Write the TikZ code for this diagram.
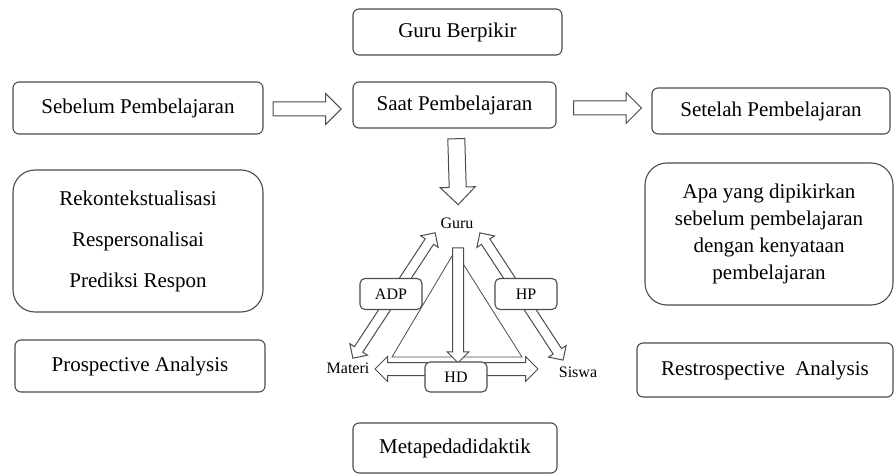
\documentclass[tikz,border=0pt]{standalone}
\usepackage{fontspec}
\setmainfont{Liberation Serif}
\usetikzlibrary{shapes.arrows}

\begin{document}
\begin{tikzpicture}[
  x=1pt, y=-1pt,
  box/.style={rectangle, rounded corners=6pt, draw=black!70, line width=1.1pt, fill=white,
              align=center, inner sep=0pt, font=\fontsize{21}{26}\selectfont},
  bigbox/.style={box, rounded corners=22pt},
  tag/.style={box, rounded corners=5pt, minimum width=62pt, minimum height=31pt,
              font=\fontsize{16}{19}\selectfont},
  word/.style={inner sep=0pt, font=\fontsize{16}{19}\selectfont},
  blockarrow/.style={single arrow, draw=black!70, line width=1pt, fill=white,
                     inner sep=0pt, sloped, allow upside down},
  twoway/.style={double arrow, draw=black!70, line width=1pt, fill=white,
                 inner sep=0pt, sloped, allow upside down}
]
\useasboundingbox (0,0) rectangle (895,476);

% top row
\node[box, minimum width=209pt, minimum height=46pt] (berpikir) at (457.5,32) {Guru Berpikir};
\node[box, minimum width=250pt, minimum height=52pt] (sebelum) at (138,108) {Sebelum Pembelajaran};
\node[box, minimum width=203pt, minimum height=46pt] (saat) at (454.5,105) {Saat Pembelajaran};
\node[box, minimum width=238pt, minimum height=46pt] (setelah) at (771,111) {Setelah Pembelajaran};

% side columns
\node[bigbox, minimum width=250pt, minimum height=142pt] (rekon) at (138,241)
  {Rekontekstualisasi\\[15pt]Respersonalisai\\[15pt]Prediksi Respon};
\node[box, minimum width=250pt, minimum height=52pt] (prosp) at (140,366) {Prospective Analysis};
\node[bigbox, minimum width=248pt, minimum height=142pt, font=\fontsize{21}{27}\selectfont] (apa) at (769,234)
  {Apa yang dipikirkan\\sebelum pembelajaran\\dengan kenyataan\\pembelajaran};
\node[box, minimum width=256pt, minimum height=54pt] (restro) at (765,370) {Restrospective\ \ Analysis};
\node[box, minimum width=204pt, minimum height=50pt] (meta) at (455,448) {Metapedadidaktik};

% corners of the triangle
\node[word] (guru) at (457,223) {Guru};
\node[word] (materi) at (348,368) {Materi};
\node[word] (siswa) at (578,372) {Siswa};

\path ([yshift=-1pt]sebelum.east) -- node[blockarrow, pos=0.45, minimum height=68pt, inner ysep=6.5pt,
  single arrow head extend=8.5pt] {} ([yshift=-1pt]sebelum.east -| saat.west);
\path ([yshift=-3pt]saat.east) -- node[blockarrow, minimum height=68pt, inner ysep=6.5pt,
  single arrow head extend=8.5pt] {} ([yshift=-3pt]saat.east -| setelah.west);
\path ([xshift=1.5pt]saat.south) -- node[blockarrow, pos=0.45, minimum height=66pt, inner ysep=8pt,
  single arrow head extend=9pt] {} ([xshift=1.5pt]guru.north |- 0,215);

\coordinate (apex) at (455,251);
\coordinate (baseL) at (392,357);
\coordinate (baseR) at (522,357);
\draw[draw=black!70, line width=0.8pt] (apex) -- (baseL) -- (baseR) -- cycle;

\coordinate (gtop) at (458,245);
\coordinate (gbot) at (458,360);
\path (gtop) -- node[blockarrow, minimum height=115pt, inner ysep=5pt,
  single arrow head extend=5.5pt] {} (gbot);

\coordinate (madp) at (353,358);
\coordinate (gadp) at (435,233);
\coordinate (ghp) at (480,233);
\coordinate (shp) at (563,360);
\coordinate (mhd) at (375,369);
\coordinate (shd) at (538,369);
\path (madp) -- node[twoway, minimum height=150pt, inner ysep=4.5pt,
  double arrow head extend=5.5pt] {} (gadp);
\path (ghp) -- node[twoway, minimum height=152pt, inner ysep=4.5pt,
  double arrow head extend=5.5pt] {} (shp);
\path (mhd) -- node[twoway, minimum height=163pt, inner ysep=6pt,
  double arrow head extend=6pt] {} (shd);

\node[tag] (adp) at (391,294) {ADP};
\node[tag] (hp) at (526,294) {HP};
\node[tag, minimum height=30pt] (hd) at (456,377) {HD};
\end{tikzpicture}
\end{document}
